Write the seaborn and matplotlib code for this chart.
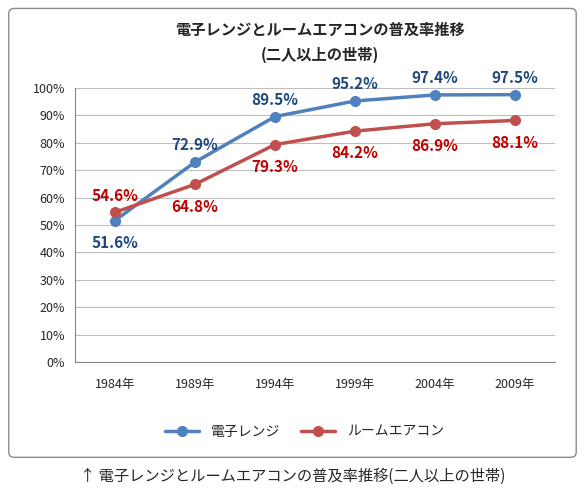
import matplotlib
matplotlib.use("Agg")
import matplotlib.pyplot as plt
import seaborn as sns
import pandas as pd
from matplotlib.patches import FancyBboxPatch

years = ["1984年", "1989年", "1994年", "1999年", "2004年", "2009年"]
microwave = [51.6, 72.9, 89.5, 95.2, 97.4, 97.5]
aircon = [54.6, 64.8, 79.3, 84.2, 86.9, 88.1]

sns.set_style("white")
plt.rcParams['font.family'] = ['Noto Sans CJK JP', 'DejaVu Sans']

df = pd.DataFrame({"year": years * 2,
                   "value": microwave + aircon,
                   "series": ["電子レンジ"] * 6 + ["ルームエアコン"] * 6})

fig = plt.figure(figsize=(5.85, 4.96), dpi=100)
ax = fig.add_axes([0.128, 0.270, 0.821, 0.553])

palette = {"電子レンジ": "#4F81BD", "ルームエアコン": "#C0504D"}
sns.lineplot(data=df, x="year", y="value", hue="series", palette=palette,
             marker="o", markersize=8, markeredgewidth=0, linewidth=2.5,
             sort=False, ax=ax, legend=False)

ax.set_xlim(-0.5, 5.5)
ax.set_ylim(0, 100)
ax.set_yticks(range(0, 101, 10))
ax.set_yticklabels([f"{v}%" for v in range(0, 101, 10)], fontsize=9)
ax.tick_params(axis="x", labelsize=9, pad=8)
ax.set_xlabel("")
ax.set_ylabel("")
ax.grid(axis="y", color="#BFBFBF", linewidth=0.8)
for s in ["top", "right"]:
    ax.spines[s].set_visible(False)
for s in ["left", "bottom"]:
    ax.spines[s].set_color("#868686")

for i, (m, a) in enumerate(zip(microwave, aircon)):
    m_off = -16 if i == 0 else 12
    a_off = 12 if i == 0 else -16
    ax.annotate(f"{m}%", (i, m), xytext=(0, m_off), textcoords="offset points",
                ha="center", va="center", fontsize=11, fontweight="bold", color="#1F497D")
    ax.annotate(f"{a}%", (i, a), xytext=(0, a_off), textcoords="offset points",
                ha="center", va="center", fontsize=11, fontweight="bold", color="#C00000")

fig.text(0.547, 0.94, "電子レンジとルームエアコンの普及率推移", ha="center", va="center",
         fontsize=11, fontweight="bold")
fig.text(0.547, 0.89, "(二人以上の世帯)", ha="center", va="center",
         fontsize=11, fontweight="bold")

# legend
from matplotlib.lines import Line2D
handles = [Line2D([], [], color=c, marker="o", markersize=7, linewidth=2.5, label=k)
           for k, c in palette.items()]
fig.legend(handles=handles, loc="center", bbox_to_anchor=(0.52, 0.13), ncol=2,
           frameon=False, fontsize=10, handlelength=2.5, columnspacing=1.5)

fig.patches.append(FancyBboxPatch((0.015, 0.078), 0.97, 0.905, boxstyle="round,pad=0,rounding_size=0.01",
                                  transform=fig.transFigure, fill=False, edgecolor="#8C8C8C", linewidth=1))

fig.text(0.5, 0.04, "↑ 電子レンジとルームエアコンの普及率推移(二人以上の世帯)", ha="center",
         va="center", fontsize=11, style="italic")

fig.savefig("out.png", dpi=100)
